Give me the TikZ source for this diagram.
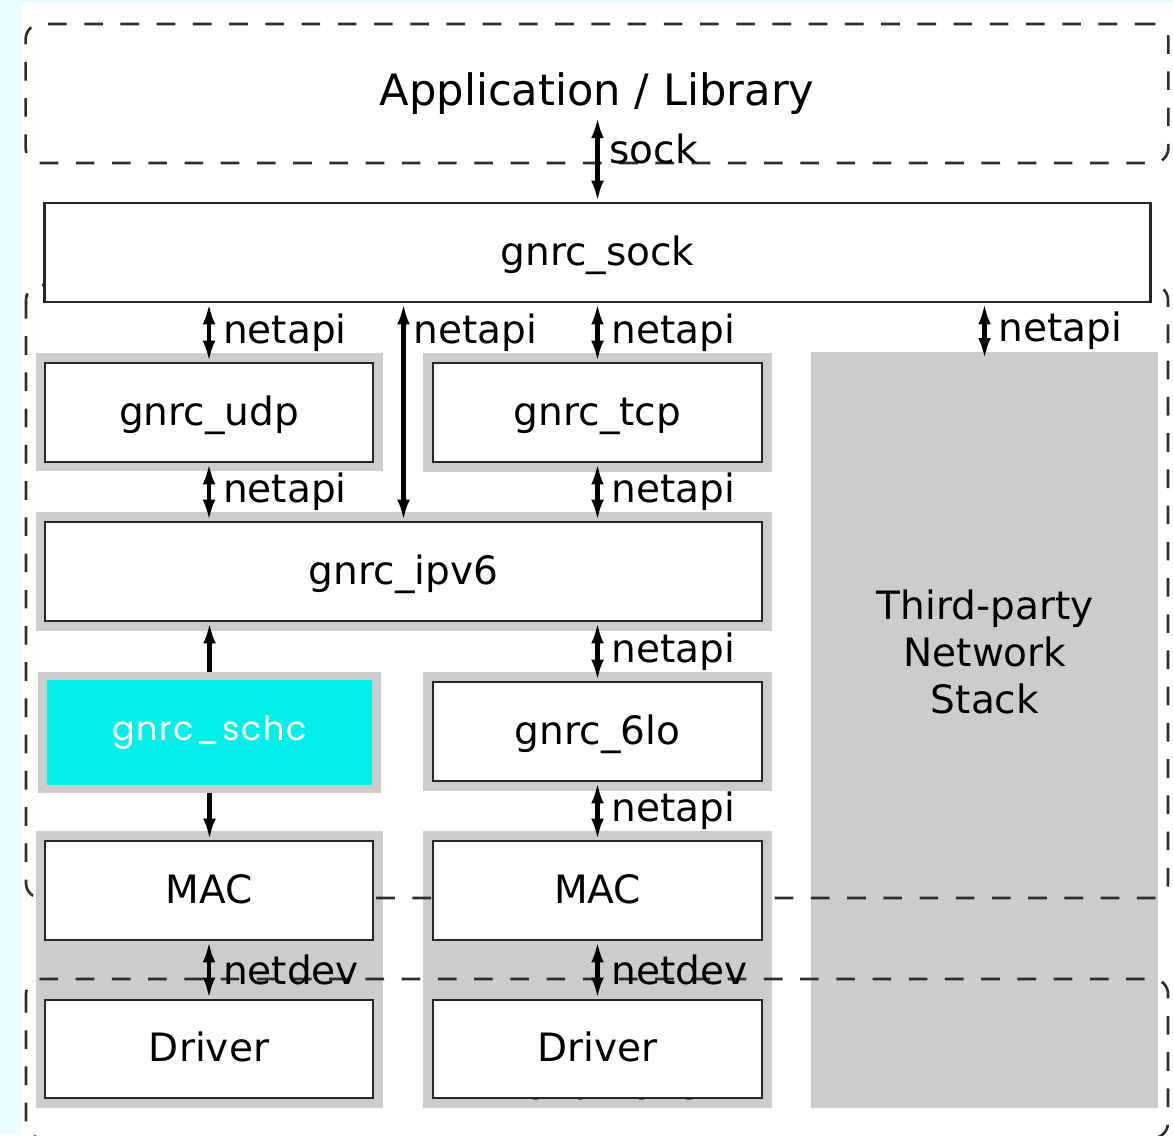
\documentclass[tikz,border=0pt]{standalone}
\usepackage{fontspec}
\setmainfont{DejaVu Sans}
\newfontfamily\schcfont[LetterSpace=5]{Poppins}
\usetikzlibrary{arrows.meta}
\definecolor{bgcyan}{RGB}{235,254,255}
\definecolor{panelgray}{RGB}{204,204,204}
\definecolor{schccyan}{RGB}{5,239,234}
\definecolor{zonegray}{RGB}{45,45,45}

\begin{document}
\begin{tikzpicture}[x=0.01cm, y=-0.01cm, font=\fontsize{11.1}{13.3}\selectfont,
    layer/.style={rectangle, draw=black!85, line width=0.7pt, fill=white, minimum height=0.99cm, inner sep=0pt,
        text height=0.96em, text depth=0.24em},
    zone/.style={draw=zonegray, line width=0.75pt, dash pattern=on 5.3pt off 5pt, rounded corners=0.15cm},
    biarrow/.style={{Latex[length=6pt,width=3.6pt]}-{Latex[length=6pt,width=3.6pt]}, line width=1.2pt},
    uparrow/.style={-{Latex[length=6pt,width=3.6pt]}, line width=1.2pt},
    lbl/.style={right, inner sep=0pt, xshift=0.12cm}]

    \useasboundingbox (0,0) rectangle (1173,1135);
    \fill[bgcyan] (0,0) rectangle (1173,1135);
    \fill[white] (21,3) rectangle (1173,1135);

    % grey backings
    \fill[panelgray] (36,353) rectangle (383,471);
    \fill[panelgray] (423,353) rectangle (772,472);
    \fill[panelgray] (36,512) rectangle (772,631);
    \fill[panelgray] (423,672) rectangle (772,791);
    \fill[panelgray] (36,831) rectangle (383,1108);
    \fill[panelgray] (423,831) rectangle (772,1108);
    \node[rectangle, fill=panelgray, minimum width=3.47cm, minimum height=7.56cm] (tp) at (984.5,730) {};
    \node[align=center, inner sep=0pt] (tptext) at (985,652) {Third-party\\Network\\Stack};

    % hidden under the drivers
    \node[anchor=base, inner sep=0pt, font=\fontsize{12.3}{14}\selectfont] (hw) at (597,1099.5) {Hardware};

    % dashed zones
    \node[zone, minimum width=11.42cm, minimum height=1.39cm, font=\fontsize{12.3}{14}\selectfont] (app) at (597,93.5) {Application / Library};
    \draw[zone] (26,285) rectangle (1168,898);
    \draw[zone] (26,979) rectangle (1168,1138);

    % boxes
    \node[layer, minimum width=11.05cm] (sock) at (597.5,252.5) {gnrc\_sock};
    \node[layer, minimum width=3.28cm] (udp) at (209,412.5) {gnrc\_udp};
    \node[layer, minimum width=3.29cm] (tcp) at (597.5,412.5) {gnrc\_tcp};
    \node[layer, minimum width=7.17cm] (ipv6) at (403.5,571.5) {gnrc\_ipv6};
    \node[rectangle, fill=schccyan, draw=panelgray, line width=2.4pt, minimum width=3.34cm, minimum height=1.125cm,
        text=white, font=\schcfont\fontsize{9.5}{11}\selectfont] (schc) at (209.5,732.5) {gnrc\_schc};
    \node[layer, minimum width=3.29cm] (sixlo) at (597.5,731.5) {gnrc\_6lo};
    \node[layer, minimum width=3.28cm] (mac1) at (209,890.5) {MAC};
    \node[layer, minimum width=3.29cm] (mac2) at (597.5,890.5) {MAC};
    \node[layer, minimum width=3.28cm, minimum height=0.98cm] (drv1) at (209,1049) {Driver};
    \node[layer, minimum width=3.29cm, minimum height=0.98cm] (drv2) at (597.5,1049) {Driver};

    % interfaces
    \coordinate (sockend) at (597.5,117);
    \draw[biarrow] (sock.north) -- node[lbl, pos=0.62, xshift=-0.02cm] {sock} (sockend);
    \draw[biarrow] (udp.north) -- node[lbl] {netapi} (udp.north |- sock.south);
    \draw[biarrow] (ipv6.north) -- node[lbl, pos=0.866, xshift=-0.04cm] {netapi} (ipv6.north |- sock.south);
    \draw[biarrow] (tcp.north) -- node[lbl] {netapi} (tcp.north |- sock.south);
    \draw[biarrow, shorten <=-0.08cm] (tp.north) -- node[lbl, pos=0.42] {netapi} (tp.north |- sock.south);
    \draw[biarrow] (udp.south) -- node[lbl] {netapi} (udp.south |- ipv6.north);
    \draw[biarrow] (tcp.south) -- node[lbl] {netapi} (tcp.south |- ipv6.north);
    \draw[uparrow] (schc.north) -- (schc.north |- ipv6.south);
    \draw[uparrow] (schc.south) -- (schc.south |- mac1.north);
    \draw[biarrow] (sixlo.north) -- node[lbl] {netapi} (sixlo.north |- ipv6.south);
    \draw[biarrow] (sixlo.south) -- node[lbl] {netapi} (mac2.north);
    \draw[biarrow] (mac1.south) -- node[lbl] {netdev} (drv1.north);
    \draw[biarrow] (mac2.south) -- node[lbl] {netdev} (drv2.north);
\end{tikzpicture}
\end{document}
